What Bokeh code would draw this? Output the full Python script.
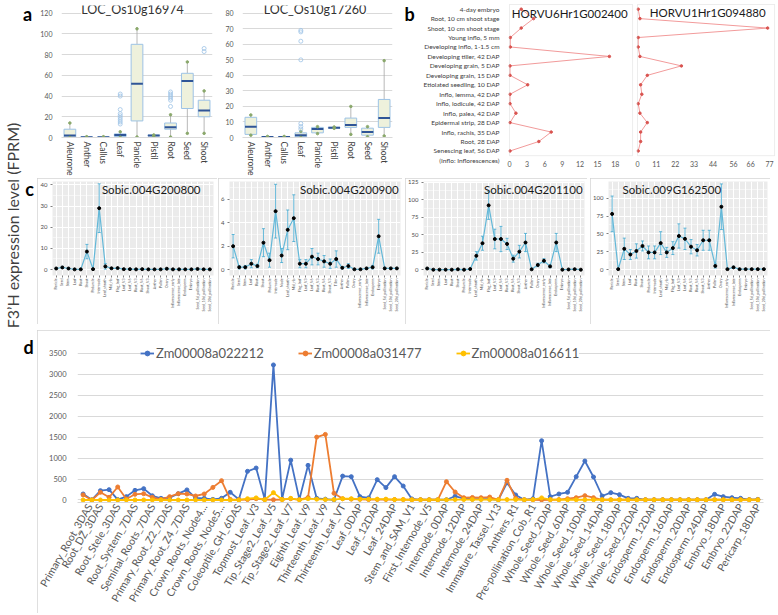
import math
from bokeh.plotting import figure
from bokeh.models import (ColumnDataSource, FactorRange, Range1d, FixedTicker, Label,
                          Legend, LegendItem, Whisker, TeeHead, Spacer, BoxAnnotation)
from bokeh.layouts import row, column
from bokeh.embed import file_html
from bokeh.resources import INLINE

FONT = "Lato"
TXT = "#595959"
BOXED = {"outline": "1px solid #D4D4D4", "outline-offset": "-1px"}

# ---------------- panel a : rice ----------------
rice_tissues = ["Aleurone", "Anther", "Callus", "Leaf", "Panicle", "Pistil", "Root", "Seed", "Shoot"]
os16974_low = [0.0, 0.0, 0.0, 0.2, 0.5, 1.4, 0.5, 4.0, 4.0]
os16974_q1 = [0.5, 0.1, 0.1, 1.0, 16.0, 1.6, 8.0, 28.0, 20.0]
os16974_med = [2.0, 0.3, 0.3, 2.5, 52.0, 2.0, 10.0, 54.5, 26.0]
os16974_q3 = [8.0, 0.6, 0.6, 3.5, 90.0, 2.3, 14.0, 62.0, 36.0]
os16974_high = [14.0, 0.8, 0.8, 5.5, 105.0, 2.5, 22.0, 73.0, 45.0]
os16974_out_tissue = ["Leaf", "Leaf", "Leaf", "Leaf", "Leaf", "Leaf", "Leaf", "Leaf", "Leaf",
                      "Root", "Root", "Root", "Root", "Root", "Root", "Shoot", "Shoot"]
os16974_out_value = [42, 40, 27, 23, 21, 19, 17, 15, 13, 44, 42, 40, 38, 36, 30, 86, 83]

os17260_low = [1.5, 0.0, 0.0, 0.0, 2.5, 5.9, 2.0, 0.5, 1.0]
os17260_q1 = [2.0, 0.1, 0.1, 0.5, 3.0, 6.0, 6.5, 1.5, 6.5]
os17260_med = [7.0, 0.3, 0.3, 1.5, 5.5, 6.3, 8.0, 3.5, 12.5]
os17260_q3 = [13.0, 0.5, 0.5, 3.0, 6.5, 6.6, 12.5, 6.0, 24.5]
os17260_high = [14.5, 0.7, 0.7, 4.0, 7.0, 6.8, 20.0, 7.0, 49.5]
os17260_out_tissue = ["Leaf", "Leaf", "Leaf", "Leaf", "Leaf", "Leaf", "Leaf"]
os17260_out_value = [69, 68, 62, 50, 9, 7, 5.5]

# ---------------- panel b : barley ----------------
barley_tissues = ["4-day embryo", "Root, 10 cm shoot stage", "Shoot, 10 cm shoot stage",
                  "Young inflo, 5 mm", "Developing inflo, 1-1.5 cm", "Developing tiller, 42 DAP",
                  "Developing grain, 5 DAP", "Developing grain, 15 DAP", "Etiolated seedling, 10 DAP",
                  "Inflo, lemma, 42 DAP", "Inflo, lodicule, 42 DAP", "Inflo, palea, 42 DAP",
                  "Epidermal strip, 28 DAP", "Inflo, rachis, 35 DAP", "Root, 28 DAP",
                  "Senescing leaf, 56 DAP"]
barley_note = "(Inflo: Inflorescences)"
horvu6_values = [2.0, 4.1, 2.0, 0.15, 0.15, 17.0, 0.1, 0.1, 3.1, 0.1, 0.1, 1.1, 0.1, 7.1, 5.0, 0.1]
horvu1_values = [0.4, 1.4, 75.9, 0.4, 0.4, 1.4, 25.6, 5.7, 1.8, 2.5, 0.4, 1.4, 5.7, 1.8, 1.8, 0.4]
horvu6_ticks = [0, 3, 6, 9, 12, 15, 18]
horvu1_ticks = [0, 11, 22, 33, 44, 56, 66, 77]

# ---------------- panel c : sorghum ----------------
sorghum_tissues_26 = ["Panicle", "Seed", "Stem", "Leaf", "Root", "Shoot", "Peduncle", "Internode",
                      "Leaf_sheath", "Mid_rib", "Flag_leaf", "Leaf_V3", "Leaf_V6", "Root_V3", "Root_V6",
                      "Shoot_V3", "Anther", "Pollen", "Ovary", "Inflorescence_early",
                      "Inflorescence_late", "Endosperm", "Embryo", "Seed_5d_pollination",
                      "Seed_10d_pollination", "Seed_20d_pollination"]
sorghum_tissues_28 = ["Panicle", "Seed", "Stem", "Leaf", "Root", "Shoot", "Peduncle", "Internode",
                      "Node", "Leaf_sheath", "Mid_rib", "Flag_leaf", "Leaf_V3", "Leaf_V6", "Root_V3",
                      "Root_V6", "Shoot_V3", "Tiller", "Anther", "Pollen", "Ovary",
                      "Inflorescence_early", "Inflorescence_late", "Endosperm", "Embryo",
                      "Seed_5d_pollination", "Seed_10d_pollination", "Seed_20d_pollination"]
sb200800_mean = [0.5, 1.0, 0.5, 0.1, 0.1, 8.5, 0.2, 29.0, 1.5, 0.6, 0.7, 0.2, 0.2, 0.1, 0.2, 0.1,
                 0.1, 0.1, 0.4, 0.1, 0.1, 0.1, 0.1, 0.3, 0.1, 0.1]
sb200800_sd = [0.3, 0.5, 0.3, 0.1, 0.1, 3.4, 0.1, 11.5, 1.3, 0.3, 0.3, 0.1, 0.1, 0.1, 0.1, 0.1,
               0.1, 0.1, 0.2, 0.1, 0.1, 0.1, 0.1, 0.2, 0.1, 0.1]
sb200900_mean = [2.0, 0.2, 0.2, 0.5, 0.3, 2.3, 0.8, 5.0, 1.2, 3.4, 4.4, 0.5, 0.5, 1.1, 0.9, 0.7,
                 0.5, 0.9, 0.15, 0.3, 0.02, 0.02, 0.1, 0.2, 2.85, 0.1, 0.1, 0.1]
sb200900_sd = [1.0, 0.15, 0.15, 0.35, 0.15, 1.2, 0.6, 2.3, 0.6, 1.7, 2.0, 0.35, 0.35, 0.7, 0.5, 0.5,
               0.4, 0.7, 0.1, 0.2, 0.02, 0.02, 0.05, 0.15, 1.45, 0.05, 0.05, 0.05]
sb201100_mean = [2.0, 0.3, 0.3, 0.3, 0.3, 0.8, 0.3, 1.2, 20, 38, 92, 44, 44, 37, 16, 26, 39, 0.8,
                 7, 13, 5, 39, 0.3, 0.6, 1.0, 0.3]
sb201100_sd = [1.0, 0.3, 0.3, 0.3, 0.3, 0.5, 0.3, 0.6, 6, 10, 20, 14, 18, 8, 5, 9, 13, 0.5,
               2.5, 3, 2, 13, 0.3, 0.4, 0.5, 0.3]
sb162500_mean = [78, 0.5, 29, 21, 26, 33, 24, 24, 37, 24, 30, 47, 43, 32, 27, 41, 41, 5, 88, 0.5,
                 3, 0.5, 0.5, 0.5, 0.5, 0.5]
sb162500_sd = [25, 0.5, 15, 7, 10, 7, 9, 9, 16, 7, 9, 17, 15, 10, 8, 14, 14, 3, 32, 0.5,
               1.5, 0.5, 0.5, 0.5, 0.5, 0.5]

# ---------------- panel d : maize ----------------
maize_tissues = ["Primary_Root_3DAS", "Root_DZ_3DAS", "Root_Stele_3DAS", "Root_System_7DAS",
                 "Seminal_Roots_7DAS", "Primary_Root_Z2_7DAS", "Primary_Root_Z4_7DAS",
                 "Crown_Roots_Node4...", "Crown_Roots_Node5...", "Coleoptile_GH_6DAS",
                 "Topmost_Leaf_V3", "Tip_Stage2_Leaf_V5", "Tip_Stage2_Leaf_V7", "Eighth_Leaf_V9",
                 "Thirteenth_Leaf_V9", "Thirteenth_Leaf_VT", "Leaf_0DAP", "Leaf_12DAP", "Leaf_24DAP",
                 "Stem_and_SAM_V1", "First_Internode_V5", "Internode_0DAP", "Internode_12DAP",
                 "Internode_24DAP", "Immature_Tassel_V13", "Anthers_R1", "Pre-pollination_Cob_R1",
                 "Whole_Seed_2DAP", "Whole_Seed_6DAP", "Whole_Seed_10DAP", "Whole_Seed_14DAP",
                 "Whole_Seed_18DAP", "Whole_Seed_22DAP", "Endosperm_12DAP", "Endosperm_16DAP",
                 "Endosperm_20DAP", "Endosperm_24DAP", "Embryo_18DAP", "Embryo_22DAP", "Pericarp_18DAP"]
zm022212 = [143, 5, 222, 246, 10, 80, 230, 270, 100, 40,
            55, 150, 240, 50, 40, 15, 40, 183, 15, 683,
            762, 15, 3220, 20, 950, 15, 826, 40, 20, 5,
            570, 556, 80, 50, 485, 295, 556, 333, 25, 5,
            5, 5, 5, 90, 30, 20, 20, 20, 5, 410,
            120, 5, 30, 1413, 80, 143, 183, 556, 929, 548,
            95, 175, 127, 40, 40, 5, 5, 5, 5, 5,
            5, 5, 5, 135, 80, 55, 40, 10, 15]
zm031477 = [120, 0, 183, 64, 310, 25, 135, 150, 64, 15,
            80, 150, 143, 95, 143, 300, 460, 15, 5, 10,
            30, 10, 5, 10, 30, 5, 60, 1500, 1564, 160,
            30, 20, 15, 10, 10, 10, 10, 10, 5, 5,
            5, 5, 437, 190, 55, 60, 55, 70, 5, 470,
            40, 5, 5, 0, 5, 10, 30, 55, 103, 55,
            5, 5, 5, 5, 5, 5, 5, 5, 5, 5,
            5, 5, 5, 5, 5, 5, 5, 5, 5]
zm016611 = [0, 0, 0, 0, 0, 0, 0, 0, 0, 0,
            0, 0, 0, 0, 0, 0, 0, 0, 0, 30,
            50, 5, 175, 10, 40, 5, 30, 20, 10, 10,
            30, 30, 20, 20, 20, 20, 10, 10, 5, 5,
            5, 5, 5, 10, 10, 10, 10, 10, 5, 10,
            10, 5, 10, 50, 10, 5, 5, 5, 5, 5,
            5, 5, 5, 5, 5, 5, 5, 5, 5, 5,
            5, 5, 5, 5, 5, 5, 5, 5, 5]
maize_series = [("Zm00008a022212", zm022212, "#4472C4"),
                ("Zm00008a031477", zm031477, "#ED7D31"),
                ("Zm00008a016611", zm016611, "#FFC000")]


def base_fig(w, h, xr, yr, lb, rb, tb, bb, **kw):
    p = figure(width=w, height=h, x_range=xr, y_range=yr, toolbar_location=None,
               output_backend="svg", title=None, min_border_left=lb, min_border_right=rb,
               min_border_top=tb, min_border_bottom=bb, frame_align=False, **kw)
    for ax in p.axis:
        ax.axis_label = None
    return p


def fmt_axis(ax, size, color=TXT, standoff=3):
    ax.axis_label = None
    ax.major_label_text_font = FONT
    ax.major_label_text_font_size = size
    ax.major_label_text_color = color
    ax.major_label_standoff = standoff
    ax.minor_tick_line_color = None


def lab(p, text, x, y, xo=0, yo=0, size="12px", align="center", color="#262626",
        bold=False, bg=None, angle=0):
    l = Label(x=x, y=y, x_offset=xo, y_offset=yo, text=text, text_align=align,
              text_baseline="middle", text_font=FONT, text_font_size=size, text_color=color,
              text_font_style="bold" if bold else "normal", angle=angle)
    if bg:
        l.background_fill_color = bg
    p.add_layout(l)


def text_fig(w, h):
    p = base_fig(w, h, Range1d(0, w), Range1d(0, h), 0, 0, 0, 0,
                 x_axis_location=None, y_axis_location=None, outline_line_color=None)
    p.grid.grid_line_color = None
    return p


# ---------- panel a ----------
def rice_box(gene, low, q1, med, q3, high, out_t, out_v, ymax, ytop, ystep, w, lb, rb, xo):
    p = base_fig(w, 178, FactorRange(factors=rice_tissues), Range1d(0, ytop), lb, rb, 5, 37,
                 outline_line_color=None)
    p.segment(x0=rice_tissues, y0=q3, x1=rice_tissues, y1=high, line_color="#A6A6A6", line_width=0.8)
    p.segment(x0=rice_tissues, y0=low, x1=rice_tissues, y1=q1, line_color="#A6A6A6", line_width=0.8)
    p.vbar(x=rice_tissues, bottom=q1, top=q3, width=0.7, fill_color="#EEF1DC",
           line_color="#9DC3E6", line_width=1)
    p.rect(x=rice_tissues, y=med, width=0.7, height=2, height_units="screen",
           fill_color="#2F5597", line_color=None)
    p.scatter(x=rice_tissues, y=high, size=2.5, color="#8AA86B")
    p.scatter(x=rice_tissues, y=low, size=2.5, color="#8AA86B")
    p.scatter(x=out_t, y=out_v, size=4, fill_color=None, line_color="#9DC3E6", line_width=0.8)
    p.yaxis.ticker = FixedTicker(ticks=list(range(0, ymax + 1, ystep)))
    p.yaxis.axis_line_color = None
    p.yaxis.major_tick_line_color = None
    fmt_axis(p.yaxis, "7px")
    p.xaxis.axis_line_color = "#D9D9D9"
    p.xaxis.major_tick_line_color = None
    p.xaxis.major_tick_out = 0
    p.xaxis.major_tick_in = 0
    p.xaxis.major_label_orientation = -math.pi / 2
    fmt_axis(p.xaxis, "8.5px", "#404040", 4)
    p.xgrid.grid_line_color = None
    p.ygrid.grid_line_color = "#D9D9D9"
    lab(p, gene, 4.5, ytop, xo=xo, yo=-4, size="12.5px", color="#333333", bg="white")
    return p


a1 = rice_box("LOC_Os10g16974", os16974_low, os16974_q1, os16974_med, os16974_q3, os16974_high,
              os16974_out_tissue, os16974_out_value, 120, 127.5, 20, 185, 21, 10, -4.5)
a2 = rice_box("LOC_Os10g17260", os17260_low, os17260_q1, os17260_med, os17260_q3, os17260_high,
              os17260_out_tissue, os17260_out_value, 80, 85, 10, 176, 14, 6, -2.5)

# ---------- panel b ----------
n_b = len(barley_tissues)
barley_y = list(range(n_b, 0, -1))          # first tissue at the top, note row at 0
barley_tick_labels = {y: t for y, t in zip(barley_y, barley_tissues)}
barley_tick_labels[0] = barley_note


def barley_line(gene, vals, xlo, xmax, box_right, ticks, w, lb, rb, show_y, title_xo, title_yo):
    p = base_fig(w, 178, Range1d(xlo, xmax), Range1d(-0.01, n_b + 0.6), lb, rb, 3, 18,
                 outline_line_color=None, y_axis_location="left" if show_y else None)
    p.add_layout(BoxAnnotation(left=0, right=box_right, bottom=0.5, top=n_b + 0.5,
                               fill_alpha=0, line_color="#BFBFBF", line_width=1))
    p.line(x=vals, y=barley_y, line_color="#F29B9B", line_width=1)
    p.scatter(x=vals, y=barley_y, size=2.5, color="#D9534F")
    p.xaxis.ticker = FixedTicker(ticks=ticks)
    p.xaxis.axis_line_color = None
    p.xaxis.major_tick_line_color = None
    p.xaxis.major_tick_out = 0
    fmt_axis(p.xaxis, "7px", TXT, 0)
    if show_y:
        p.yaxis.ticker = FixedTicker(ticks=[0] + barley_y)
        p.yaxis.major_label_overrides = barley_tick_labels
        p.yaxis.axis_line_color = None
        p.yaxis.major_tick_line_color = None
        fmt_axis(p.yaxis, "6.5px", "#404040", 3)
    p.grid.grid_line_color = None
    lab(p, gene, box_right, n_b + 0.5, xo=title_xo, yo=title_yo, size="11.5px",
        align="right", color="#1A1A1A")
    return p


b_letter = text_fig(22, 178)
lab(b_letter, "b", 11, 165, size="18px", color="black", bold=True)
b1 = barley_line("HORVU6Hr1G002400", horvu6_values, -0.16, 21.1, 20.95, horvu6_ticks, 214, 78, 1,
                 True, -5, -9)
b2 = barley_line("HORVU1Hr1G094880", horvu1_values, -0.6, 80.5, 80.0, horvu1_ticks, 144, 2, 3,
                 False, -9, -8)


# ---------- panel c ----------
def sorghum(gene, tissues, mean, sd, ymin, ymax, ticks, minor, w, lb, rb, tfrac, talign):
    n = len(mean)
    xs = list(range(n))
    p = base_fig(w, 146, Range1d(-0.6, n - 1 + 0.6), Range1d(ymin, ymax), lb, rb, 3, 49,
                 background_fill_color="#EBEBEB", border_fill_color="white",
                 outline_line_color=None, styles=BOXED)
    src = ColumnDataSource(dict(x=xs, y=mean,
                                lo=[m - s for m, s in zip(mean, sd)],
                                hi=[m + s for m, s in zip(mean, sd)]))
    p.line("x", "y", source=src, line_color="#63B8D8", line_width=1.2)
    col = "#3FA7CF"
    p.add_layout(Whisker(source=src, base="x", upper="hi", lower="lo", dimension="height",
                         line_color=col, line_width=0.8,
                         upper_head=TeeHead(size=3, line_color=col, line_width=0.8),
                         lower_head=TeeHead(size=3, line_color=col, line_width=0.8)))
    p.scatter("x", "y", source=src, size=3, color="black")
    p.xaxis.ticker = FixedTicker(ticks=xs)
    p.xaxis.major_label_overrides = {i: t for i, t in zip(xs, tissues)}
    p.xaxis.major_label_orientation = math.pi / 2
    p.xaxis.axis_line_color = None
    p.xaxis.major_tick_line_color = "#7F7F7F"
    p.xaxis.major_tick_out = 2
    p.xaxis.major_tick_in = 0
    fmt_axis(p.xaxis, "3.5px", "#4D4D4D", 1)
    p.yaxis.ticker = FixedTicker(ticks=ticks, minor_ticks=minor)
    p.yaxis.axis_line_color = None
    p.yaxis.major_tick_line_color = "#7F7F7F"
    p.yaxis.major_tick_out = 2
    p.yaxis.major_tick_in = 0
    fmt_axis(p.yaxis, "6px", "#4D4D4D", 1)
    p.grid.grid_line_color = "white"
    p.grid.grid_line_width = 1
    p.ygrid.minor_grid_line_color = "white"
    p.ygrid.minor_grid_line_width = 0.5
    tx = -0.6 + tfrac * (n - 1 + 1.2)
    lab(p, gene, tx, ymax, yo=-8, size="11.5px", align=talign, color="#1A1A1A")
    return p


c1 = sorghum("Sobic.004G200800", sorghum_tissues_26, sb200800_mean, sb200800_sd, -2.8, 41.6,
             [0, 10, 20, 30, 40], [-5, 5, 15, 25, 35], 180, 13, 4, 0.613, "center")
c2 = sorghum("Sobic.004G200900", sorghum_tissues_28, sb200900_mean, sb200900_sd, -0.51, 7.54,
             [0, 2, 4, 6], [-1, 1, 3, 5, 7], 184, 7, 2, 0.989, "right")
c3 = sorghum("Sobic.004G201100", sorghum_tissues_26, sb201100_mean, sb201100_sd, -8, 126,
             [0, 25, 50, 75, 100, 125], [12.5, 37.5, 62.5, 87.5, 112.5], 182, 16, 3, 0.988, "right")
c4 = sorghum("Sobic.009G162500", sorghum_tissues_26, sb162500_mean, sb162500_sd, -8.4, 123.4,
             [0, 25, 50, 75, 100], [12.5, 37.5, 62.5, 87.5, 112.5], 180, 16, 3, 0.398, "center")

# ---------- panel d ----------
n_d = len(zm022212)
xd = list(range(n_d))
d = base_fig(733, 283, Range1d(-0.65, n_d - 1 + 0.65), Range1d(-60, 3803), 40, 7, 10, 111,
             outline_line_color=None, styles=BOXED)
items = []
for name, vals, colr in maize_series:
    rl = d.line(xd, vals, line_color=colr, line_width=1.8)
    rs = d.scatter(xd, vals, size=4, color=colr)
    items.append(LegendItem(label=name, renderers=[rl, rs]))
label_ticks = list(range(0, n_d, 2))
d.xaxis.ticker = FixedTicker(ticks=label_ticks)
d.xaxis.major_label_overrides = {i: t for i, t in zip(label_ticks, maize_tissues)}
d.xaxis.major_label_orientation = math.pi / 3
d.xaxis.axis_line_color = "#D9D9D9"
d.xaxis.major_tick_line_color = None
d.xaxis.major_tick_out = 0
fmt_axis(d.xaxis, "10.5px", TXT, 2)
d.yaxis.ticker = FixedTicker(ticks=list(range(0, 3501, 500)))
d.yaxis.axis_line_color = None
d.yaxis.major_tick_line_color = None
fmt_axis(d.yaxis, "7.5px", TXT, 5)
d.xgrid.grid_line_color = None
d.ygrid.grid_line_color = "#D9D9D9"
legend = Legend(items=items, orientation="horizontal", location=(63, 141),
                background_fill_color="white", background_fill_alpha=1.0, border_line_color=None,
                label_text_font=FONT, label_text_font_size="13px", label_text_color=TXT,
                glyph_width=14, glyph_height=12, spacing=34, padding=2, margin=0, label_standoff=2)
d.add_layout(legend)

# ---------- left strip: shared y label and panel letters ----------
strip = text_fig(37, 613)
lab(strip, "F3’H expression level (FPRM)", 12, 388, size="16px", color="#404040", angle=math.pi / 2)
lab(strip, "a", 27, 600, size="18px", color="black", bold=True)
lab(strip, "c", 29, 425, size="18px", color="black", bold=True)
lab(strip, "d", 28, 267, size="18px", color="black", bold=True)

rowA = row(a1, a2, b_letter, b1, b2)
rowC = row(c1, Spacer(width=1, height=146), c2, Spacer(width=3, height=146), c3,
           Spacer(width=3, height=146), c4, Spacer(width=8, height=146))
right = column(rowA, rowC, Spacer(width=741, height=6), d)
layout = row(strip, right)

open("out.html", "w").write(file_html(layout, INLINE))
